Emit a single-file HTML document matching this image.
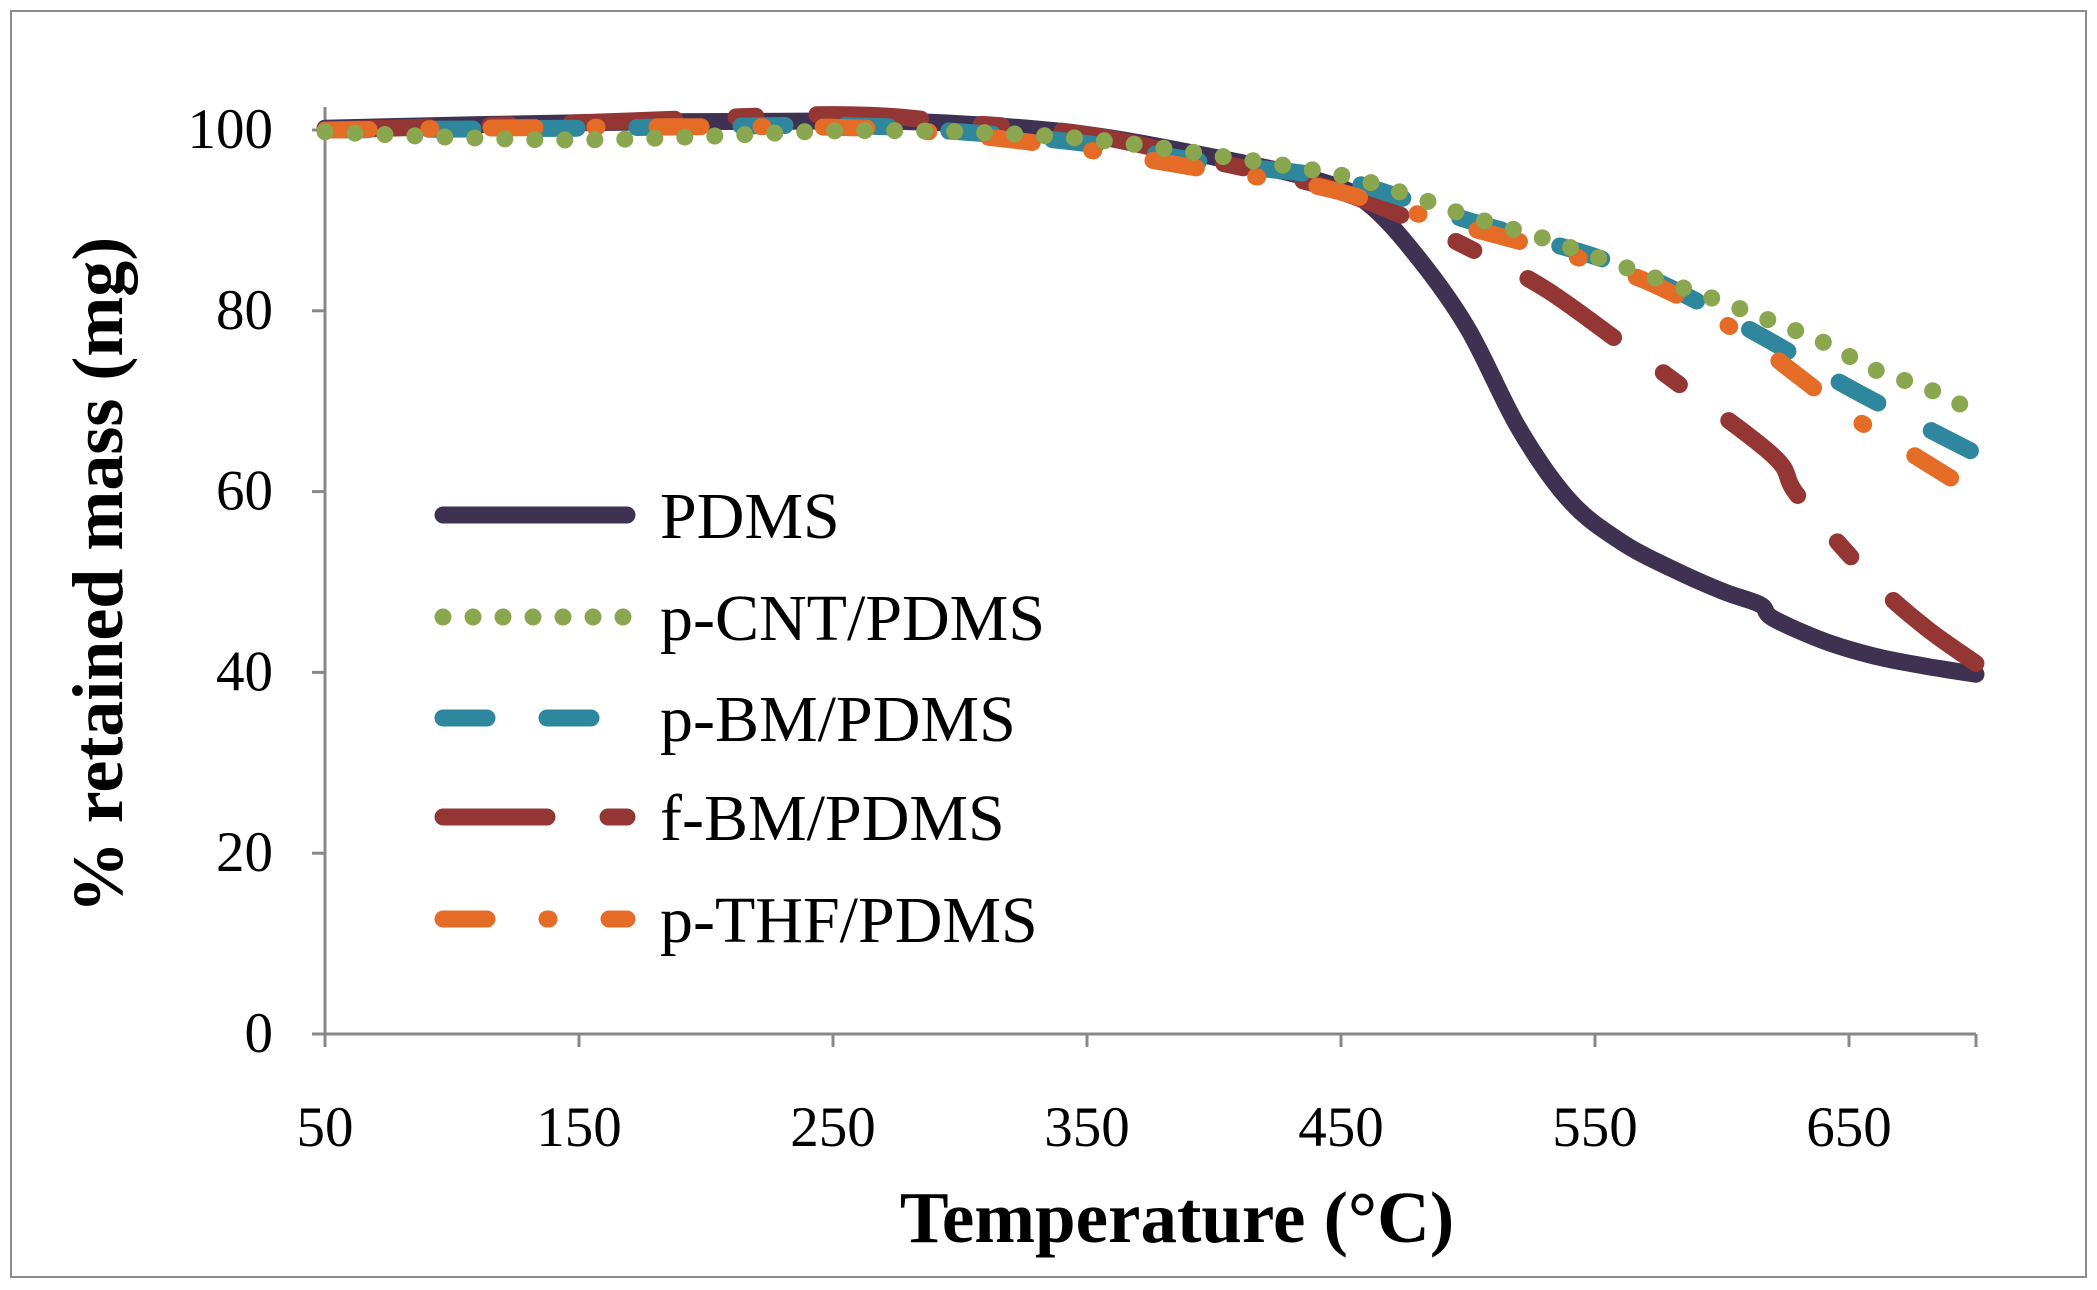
<!DOCTYPE html>
<html><head><meta charset="utf-8"><style>
html,body{margin:0;padding:0;background:#fff;}
svg{display:block;font-family:"Liberation Serif",serif;}
</style></head><body>
<svg width="2097" height="1290" viewBox="0 0 2097 1290">
<rect x="11" y="11" width="2075" height="1266" fill="none" stroke="#8c8c8c" stroke-width="2"/>
<g id="axes"></g>
<g id="series"></g>
<g id="legend"></g>
<text x="1177" y="1242" text-anchor="middle" font-weight="bold" font-size="73">Temperature (°C)</text>
<text transform="translate(122,575) rotate(-90)" text-anchor="middle" font-weight="bold" font-size="72">% retained mass (mg)</text>
</svg>
<script>
const xTicks=[50,150,250,350,450,550,650];
const yTicks=[0,20,40,60,80,100];
const seriesNames=["PDMS","p-CNT/PDMS","p-BM/PDMS","f-BM/PDMS","p-THF/PDMS"];
const pdmsT=[50,150,250,300,350,400,440,460,480,500,520,540,560,580,600,615,620,640,660,680,700];
const pdmsV=[100.2,100.8,101,100.7,99.5,97,94.5,92,86,78,67,59,54.5,51.5,49,47.5,46,43.5,41.8,40.7,39.8];
const cntT=[50,100,150,200,250,300,350,400,450,480,500,530,550,580,600,620,640,660,680,695];
const cntV=[99.8,99.2,98.9,99.3,99.9,99.8,99,97.2,95,92.5,90.5,88,86,83,81,78.8,76.5,73.5,71.5,69.5];
const pbmT=[50,150,250,300,350,400,450,500,550,580,620,650,700];
const pbmV=[100,100.2,100.5,99.8,98.5,96.3,94.5,90,86,82.5,76.5,71.5,64.2];
const fbmT=[50,150,250,300,350,400,440,470,500,530,560,580,620,630,660,680,700];
const fbmV=[100,100.8,101.7,100.8,99.5,96.5,94,91,87,82.5,76.5,72.5,64,59.5,50,45,41];
const thfT=[50,150,250,300,350,400,440,470,500,550,580,610,630,650,670,690];
const thfV=[100,100.3,100.3,99.5,97.8,95.5,93.8,91.5,89.2,85.3,82,77,72.8,68.5,65,61.5];

const NS="http://www.w3.org/2000/svg";
const X0=325,XS=2.54,Y0=1034,YS=9.04;
const xs=t=>X0+(t-50)*XS;
const ys=v=>Y0-v*YS;
function mk(tag,attrs,parent){const e=document.createElementNS(NS,tag);for(const k in attrs)e.setAttribute(k,attrs[k]);parent.appendChild(e);return e;}
function smooth(P){
  let d='M'+P[0][0].toFixed(1)+' '+P[0][1].toFixed(1);
  for(let i=0;i<P.length-1;i++){
    const p0=P[Math.max(0,i-1)],p1=P[i],p2=P[i+1],p3=P[Math.min(P.length-1,i+2)];
    const c1=[p1[0]+(p2[0]-p0[0])/6,p1[1]+(p2[1]-p0[1])/6];
    const c2=[p2[0]-(p3[0]-p1[0])/6,p2[1]-(p3[1]-p1[1])/6];
    d+=' C'+c1.map(v=>v.toFixed(1)).join(' ')+' '+c2.map(v=>v.toFixed(1)).join(' ')+' '+p2.map(v=>v.toFixed(1)).join(' ');
  }
  return d;
}
const axes=document.getElementById('axes');
let el=mk('line',{x1:X0,y1:107,x2:X0,y2:Y0,stroke:'#888',"stroke-width":3},axes);


el=mk('line',{x1:X0,y1:Y0,x2:xs(700),y2:Y0,stroke:'#888',"stroke-width":3},axes);


yTicks.forEach(v=>{
  const t=mk('line',{x1:X0-13,y1:ys(v),x2:X0,y2:ys(v),stroke:'#888',"stroke-width":3},axes);
  
  
  const l=mk('text',{x:X0-52,y:ys(v)+18,"text-anchor":"end","font-size":57},axes);
  l.textContent=v;
  
  
});
xTicks.concat([700]).forEach(v=>{
  const t=mk('line',{x1:xs(v),y1:Y0,x2:xs(v),y2:Y0+13,stroke:'#888',"stroke-width":3},axes);
  
  
});
xTicks.forEach(v=>{
  const l=mk('text',{x:xs(v),y:1146,"text-anchor":"middle","font-size":57},axes);
  l.textContent=v;
  
  
});
const styles=[
 {c:'#3f3151',d:'none'},
 {c:'#8aa64e',d:'0 30'},
 {c:'#2e879c',d:'44 60'},
 {c:'#943634',d:'104 61 20 61'},
 {c:'#e46c26',d:'44 60 2 60'}];
const data=[[pdmsT,pdmsV],[cntT,cntV],[pbmT,pbmV],[fbmT,fbmV],[thfT,thfV]];
const sg=document.getElementById('series');
[0,3,2,4,1].forEach(i=>{
  const [T,V]=data[i];
  const d=smooth(T.map((t,k)=>[xs(t),ys(V[k])]));
  const p=mk('path',{d:d,fill:'none',stroke:styles[i].c,"stroke-width":17,"stroke-linecap":"round","stroke-linejoin":"round","stroke-dasharray":styles[i].d},sg);
  
  
});
const lg=document.getElementById('legend');
const rows=[515,617,718,817,919];
seriesNames.forEach((n,i)=>{
  const g=mk('g',{},lg);
  
  
  mk('line',{x1:443,y1:rows[i],x2:627,y2:rows[i],stroke:styles[i].c,"stroke-width":17,"stroke-linecap":"round","stroke-dasharray":styles[i].d},g);
  const t=mk('text',{x:660,y:rows[i]+23,"font-size":66},g);
  t.textContent=n;
});
</script>
</body></html>
